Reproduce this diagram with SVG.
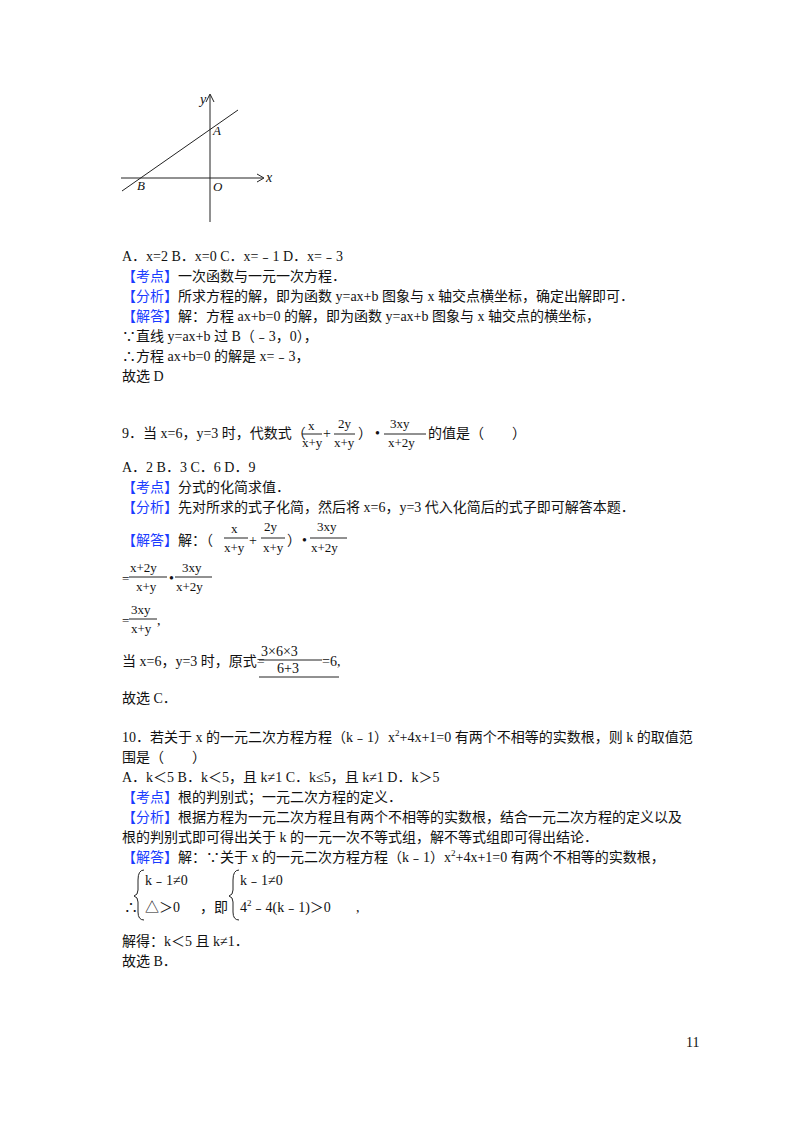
<svg xmlns="http://www.w3.org/2000/svg" width="800" height="1132" viewBox="0 0 800 1132">
<style>
text{font-family:"Liberation Serif","Noto Sans CJK SC",serif;font-size:14px;fill:#111}
.b{fill:#1a3cff}
.s{font-size:13px}
.i{font-style:italic}
line,path{stroke:#222;stroke-width:1;fill:none}
</style>
<rect width="800" height="1132" fill="#fff"/>
<g id="graph">
<line x1="121" y1="178" x2="263" y2="178"/>
<path d="M257,174 L264,178 L257,182"/>
<line x1="210" y1="222" x2="210" y2="95"/>
<path d="M206,102 L210,94 L214,102"/>
<line x1="122" y1="191" x2="238" y2="110"/>
<text x="200" y="104" class="i">y</text>
<text x="266" y="182" class="i">x</text>
<text x="213" y="135" class="i s">A</text>
<text x="137" y="190" class="i s">B</text>
<text x="213" y="191" class="i s">O</text>
</g>
<g id="text">
<text x="122" y="261">A．x=2 B．x=0 C．x=﹣1 D．x=﹣3</text>
<text x="122" y="281"><tspan class="b">【考点】</tspan>一次函数与一元一次方程．</text>
<text x="122" y="301"><tspan class="b">【分析】</tspan>所求方程的解，即为函数 y=ax+b 图象与 x 轴交点横坐标，确定出解即可．</text>
<text x="122" y="321"><tspan class="b">【解答】</tspan>解：方程 ax+b=0 的解，即为函数 y=ax+b 图象与 x 轴交点的横坐标，</text>
<text x="122" y="341">∵直线 y=ax+b 过 B（﹣3，0），</text>
<text x="122" y="361">∴方程 ax+b=0 的解是 x=﹣3，</text>
<text x="122" y="381">故选 D</text>

<text x="122" y="438">9．当 x=6，y=3 时，代数式（</text>
<text x="308" y="430" class="s">x</text><line x1="302" y1="434" x2="322" y2="434"/><text x="302" y="447" class="s">x+y</text>
<text x="323" y="438">+</text>
<text x="338" y="428" class="s">2y</text><line x1="334" y1="434" x2="355" y2="434"/><text x="334" y="447" class="s">x+y</text>
<text x="358" y="438">）</text>
<text x="375" y="438">•</text>
<text x="390" y="428" class="s">3xy</text><line x1="384" y1="434" x2="426" y2="434"/><text x="388" y="447" class="s">x+2y</text>
<text x="428" y="438">的值是（　　）</text>

<text x="122" y="472">A．2 B．3 C．6 D．9</text>
<text x="122" y="492"><tspan class="b">【考点】</tspan>分式的化简求值．</text>
<text x="122" y="512"><tspan class="b">【分析】</tspan>先对所求的式子化简，然后将 x=6，y=3 代入化简后的式子即可解答本题．</text>
<text x="122" y="545"><tspan class="b">【解答】</tspan>解：（</text>
<text x="231" y="533" class="s">x</text><line x1="224" y1="538" x2="248" y2="538"/><text x="224" y="552" class="s">x+y</text>
<text x="249" y="545">+</text>
<text x="264" y="531" class="s">2y</text><line x1="261" y1="538" x2="285" y2="538"/><text x="263" y="552" class="s">x+y</text>
<text x="287" y="545">）</text>
<text x="302" y="545">•</text>
<text x="317" y="531" class="s">3xy</text><line x1="310" y1="538" x2="347" y2="538"/><text x="311" y="552" class="s">x+2y</text>

<text x="122" y="583" class="s">=</text>
<text x="130" y="572" class="s">x+2y</text><line x1="129" y1="577" x2="167" y2="577"/><text x="136" y="591" class="s">x+y</text>
<text x="169" y="583">•</text>
<text x="182" y="572" class="s">3xy</text><line x1="175" y1="577" x2="212" y2="577"/><text x="176" y="591" class="s">x+2y</text>
<text x="122" y="625" class="s">=</text>
<text x="131" y="614" class="s">3xy</text><line x1="129" y1="619" x2="157" y2="619"/><text x="131" y="633" class="s">x+y</text><text x="157" y="625">,</text>
<text x="122" y="666">当 x=6，y=3 时，原式=</text>
<text x="261" y="656">3×6×3</text><line x1="259" y1="660" x2="322" y2="660"/><text x="277" y="673">6+3</text>
<line x1="259" y1="677" x2="339" y2="677"/>
<text x="322" y="666">=6,</text>
<text x="122" y="703">故选 C．</text>

<text x="122" y="742">10．若关于 x 的一元二次方程方程（k﹣1）x<tspan font-size="9" dy="-6">2</tspan><tspan dy="6">+4x+1=0 有两个不相等的实数根，则 k 的取值范</tspan></text>
<text x="122" y="762">围是（　　）</text>
<text x="122" y="782">A．k＜5 B．k＜5，且 k≠1 C．k≤5，且 k≠1 D．k＞5</text>
<text x="122" y="802"><tspan class="b">【考点】</tspan>根的判别式；一元二次方程的定义．</text>
<text x="122" y="822"><tspan class="b">【分析】</tspan>根据方程为一元二次方程且有两个不相等的实数根，结合一元二次方程的定义以及</text>
<text x="122" y="842">根的判别式即可得出关于 k 的一元一次不等式组，解不等式组即可得出结论．</text>
<text x="122" y="862"><tspan class="b">【解答】</tspan>解：∵关于 x 的一元二次方程方程（k﹣1）x<tspan font-size="9" dy="-6">2</tspan><tspan dy="6">+4x+1=0 有两个不相等的实数根，</tspan></text>
<path d="M144,870 Q138,870 138,880 L138,890 Q138,895 134,896 Q138,897 138,902 L138,912 Q138,920 144,920"/>
<text x="145" y="885">k﹣1≠0</text>
<text x="124" y="912">∴</text>
<text x="145" y="912">△＞0</text>
<text x="200" y="912">，即</text>
<path d="M239,870 Q233,870 233,880 L233,890 Q233,895 229,896 Q233,897 233,902 L233,912 Q233,920 239,920"/>
<text x="240" y="885">k﹣1≠0</text>
<text x="240" y="912">4<tspan font-size="9" dy="-6">2</tspan><tspan dy="6">﹣4(k﹣1)＞0</tspan></text>
<text x="356" y="912">,</text>
<text x="122" y="946">解得：k＜5 且 k≠1．</text>
<text x="122" y="966">故选 B．</text>
<text x="686" y="1047" font-size="12">11</text>
</g>
</svg>
